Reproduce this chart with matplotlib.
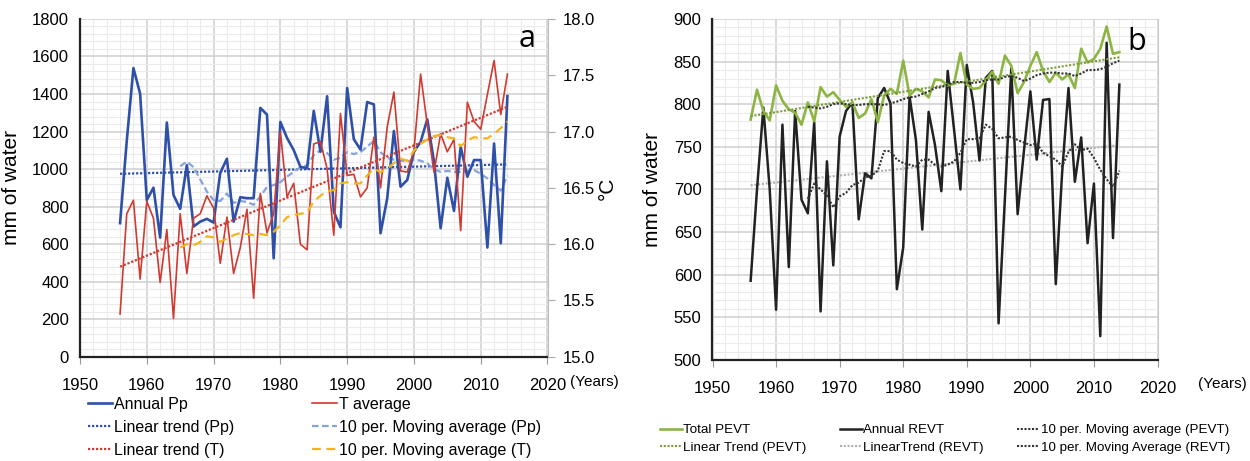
import numpy as np
import matplotlib.pyplot as plt
from matplotlib.ticker import MultipleLocator
from matplotlib.lines import Line2D

plt.rcParams['font.family'] = ['Liberation Sans', 'DejaVu Sans']

# ---------------- data ----------------
years = list(range(1956, 2015))
ma_years = list(range(1965, 2015))

# panel a : precipitation (mm) and temperature (degC)
annual_pp = [712, 1150, 1538, 1402, 835, 901, 635, 1248, 862, 788,
             1021, 694, 720, 735, 715, 980, 1055, 720, 850, 845,
             845, 1326, 1290, 525, 1251, 1166, 1101, 1012, 1004, 1310,
             1092, 1388, 773, 690, 1432, 1159, 1104, 1357, 1345, 658,
             844, 1203, 906, 942, 1092, 1145, 1265, 1039, 685, 954,
             777, 1119, 959, 1048, 1048, 582, 1136, 605, 1389]
t_average = [15.38, 16.27, 16.39, 15.69, 16.38, 16.23, 15.66, 16.13, 15.34, 16.27,
             15.74, 16.23, 16.27, 16.43, 16.32, 15.83, 16.24, 15.74, 15.97, 16.31,
             15.52, 16.45, 16.10, 16.27, 17.00, 16.42, 16.54, 16.00, 15.95, 16.89,
             16.91, 16.67, 16.08, 17.16, 16.61, 16.62, 16.42, 16.50, 16.95, 16.50,
             17.04, 17.35, 16.65, 16.64, 16.83, 17.51, 17.06, 16.64, 16.98, 16.82,
             16.93, 16.12, 17.26, 17.09, 17.02, 17.33, 17.63, 17.15, 17.51]
ma_pp = [1015, 1040, 1010, 945, 880, 835, 830, 870, 820, 830,
         825, 810, 855, 905, 915, 930, 960, 985, 1010, 1020,
         1075, 1100, 1085, 1050, 1060, 1090, 1080, 1090, 1120, 1150,
         1090, 1060, 1050, 1045, 1040, 1050, 1045, 1030, 1000, 985,
         990, 985, 985, 990, 995, 975, 950, 915, 885, 965]
ma_t = [15.97, 16.00, 15.99, 16.02, 16.07, 16.06, 16.02, 16.05, 16.08, 16.10,
        16.09, 16.08, 16.09, 16.08, 16.11, 16.17, 16.24, 16.26, 16.27, 16.28,
        16.38, 16.43, 16.47, 16.48, 16.54, 16.55, 16.54, 16.54, 16.61, 16.67,
        16.64, 16.67, 16.72, 16.76, 16.74, 16.83, 16.89, 16.93, 16.96, 16.97,
        16.95, 16.94, 16.87, 16.92, 16.95, 16.94, 16.94, 16.98, 17.03, 17.09]
trend_years = [1956, 2014]
trend_pp = [975, 1025]
trend_t = [15.80, 17.22]

# panel b : evapotranspiration (mm)
total_pevt = [782, 817, 792, 781, 822, 804, 794, 790, 776, 802,
              780, 820, 809, 814, 805, 797, 802, 784, 789, 806,
              779, 810, 818, 812, 851, 810, 818, 815, 808, 829,
              828, 822, 824, 860, 823, 818, 819, 828, 838, 824,
              857, 845, 813, 826, 845, 861, 839, 826, 837, 829,
              835, 819, 865, 849, 853, 865, 891, 859, 861]
annual_revt = [593, 700, 796, 700, 559, 776, 609, 792, 688, 672,
               779, 557, 733, 611, 762, 792, 802, 665, 719, 713,
               807, 819, 801, 583, 632, 809, 758, 653, 791, 752,
               698, 839, 770, 700, 846, 802, 734, 831, 839, 543,
               690, 842, 671, 746, 815, 735, 805, 806, 589, 720,
               819, 709, 761, 637, 707, 528, 872, 643, 823]
ma_pevt = [797, 796, 795, 797, 800, 801, 800, 799, 799, 800,
           800, 800, 799, 801, 803, 806, 808, 809, 812, 815,
           819, 820, 823, 826, 826, 825, 825, 826, 828, 829,
           829, 832, 833, 831, 827, 830, 834, 836, 837, 837,
           836, 836, 833, 836, 840, 840, 841, 844, 848, 851]
ma_revt = [689, 707, 700, 693, 679, 692, 696, 705, 708, 714,
           716, 722, 745, 745, 735, 731, 729, 727, 735, 735,
           729, 727, 729, 733, 743, 759, 759, 760, 776, 771,
           760, 761, 762, 758, 755, 752, 754, 743, 739, 735,
           727, 744, 753, 746, 748, 737, 723, 712, 703, 722]
trend_pevt = [786, 855]
trend_revt = [705, 752]

# colours
c_pp = '#2f50a8'
c_t = '#d03a30'
c_mapp = '#86a3dc'
c_mat = '#f2b51b'
c_green = '#8cb543'
c_black = '#222222'

fig = plt.figure(figsize=(12.5, 4.61), dpi=100)


def style_grid(ax, xminor, yminor):
    ax.set_xlim(1950, 2020)
    ax.xaxis.set_major_locator(MultipleLocator(10))
    ax.xaxis.set_minor_locator(MultipleLocator(xminor))
    ax.yaxis.set_minor_locator(MultipleLocator(yminor))
    ax.grid(which='major', color='#cfcfcf', lw=1.1, zorder=0)
    ax.grid(which='minor', color='#ebebeb', lw=0.8, zorder=0)
    ax.set_axisbelow(True)
    ax.tick_params(axis='x', which='major', length=5, color='#999999', pad=10, labelsize=12)
    ax.tick_params(axis='y', which='major', length=0, pad=8, labelsize=12)
    ax.tick_params(which='minor', length=0)
    ax.spines['top'].set_visible(False)
    for s in ('left', 'bottom'):
        ax.spines[s].set_linewidth(1.6)
        ax.spines[s].set_color('#222222')


# ---------------- panel a ----------------
ax1 = fig.add_axes([0.064, 0.226, 0.374, 0.733])
style_grid(ax1, 2, 40)
ax1.set_ylim(0, 1800)
ax1.yaxis.set_major_locator(MultipleLocator(200))
ax1.spines['right'].set_visible(False)
ax1.set_ylabel('mm of water', fontsize=15, labelpad=8)

ax1t = ax1.twinx()
ax1t.set_ylim(15.0, 18.0)
ax1t.yaxis.set_major_locator(MultipleLocator(0.5))
ax1t.yaxis.set_major_formatter(plt.FormatStrFormatter('%.1f'))
ax1t.tick_params(axis='y', length=5, color='#aaaaaa', pad=6, labelsize=12)
for s in ('top', 'left', 'bottom'):
    ax1t.spines[s].set_visible(False)
ax1t.spines['right'].set_color('#bbbbbb')
ax1t.set_ylabel('°C', fontsize=15, labelpad=2)

l_pp, = ax1.plot(years, annual_pp, color=c_pp, lw=1.9, zorder=4)
l_tpp, = ax1.plot(trend_years, trend_pp, color=c_pp, lw=1.6, ls=(0, (1, 0.8)), zorder=3)
l_mapp, = ax1.plot(ma_years, ma_pp, color=c_mapp, lw=1.6, ls=(0, (3, 1.5)), zorder=3)
l_t, = ax1t.plot(years, t_average, color=c_t, lw=1.2, zorder=3)
l_tt, = ax1t.plot(trend_years, trend_t, color=c_t, lw=1.6, ls=(0, (1, 0.8)), zorder=3)
l_mat, = ax1t.plot(ma_years, ma_t, color=c_mat, lw=1.6, ls=(0, (4, 2.5)), zorder=3)

ax1.text(0.975, 0.985, 'a', transform=ax1.transAxes, ha='right', va='top',
         fontsize=22, family=['Open Sans', 'DejaVu Sans'])
ax1.text(1.048, -0.075, '(Years)', transform=ax1.transAxes, ha='left', va='center', fontsize=11)

fig.legend([l_pp, l_tpp, l_tt, l_t, l_mapp, l_mat],
           ['Annual Pp', 'Linear trend (Pp)', 'Linear trend (T)',
            'T average', '10 per. Moving average (Pp)', '10 per. Moving average (T)'],
           loc='upper left', bbox_to_anchor=(0.070, 0.139), ncol=2, frameon=False,
           fontsize=11.5, handlelength=1.55, handletextpad=0.1, columnspacing=4.9,
           labelspacing=0.5, borderaxespad=0, borderpad=0)

# ---------------- panel b ----------------
ax2 = fig.add_axes([0.570, 0.219, 0.356, 0.740])
style_grid(ax2, 2, 10)
ax2.set_ylim(500, 900)
ax2.yaxis.set_major_locator(MultipleLocator(50))
ax2.spines['right'].set_color('#cccccc')
ax2.set_ylabel('mm of water', fontsize=15, labelpad=8)

ax2.plot(trend_years, trend_revt, color='#b0b0b0', lw=1.5, ls=(0, (1, 0.8)), zorder=2)
l_rv, = ax2.plot(years, annual_revt, color=c_black, lw=1.8, zorder=3)
l_pv, = ax2.plot(years, total_pevt, color=c_green, lw=1.9, zorder=4)
l_tpv, = ax2.plot(trend_years, trend_pevt, color='#7d9d3c', lw=1.5, ls=(0, (1, 0.8)), zorder=5)
l_mpv, = ax2.plot(ma_years, ma_pevt, color='#333333', lw=1.5, ls=(0, (1, 0.8)), zorder=5)
l_mrv, = ax2.plot(ma_years, ma_revt, color='#333333', lw=1.5, ls=(0, (1, 0.8)), zorder=5)
l_trv = Line2D([], [], color='#b0b0b0', lw=1.5, ls=(0, (1, 0.8)))

ax2.text(0.975, 0.975, 'b', transform=ax2.transAxes, ha='right', va='top',
         fontsize=22, family=['Open Sans', 'DejaVu Sans'])
ax2.text(1.09, -0.07, '(Years)', transform=ax2.transAxes, ha='left', va='center', fontsize=11)

fig.legend([l_pv, l_tpv, l_rv, l_trv, l_mpv, l_mrv],
           ['Total PEVT', 'Linear Trend (PEVT)', 'Annual REVT',
            'LinearTrend (REVT)', '10 per. Moving average (PEVT)',
            '10 per. Moving Average (REVT)'],
           loc='upper left', bbox_to_anchor=(0.528, 0.080), ncol=3, frameon=False,
           fontsize=9.6, handlelength=1.65, handletextpad=0.1, columnspacing=2.5,
           labelspacing=0.4, borderaxespad=0, borderpad=0)

fig.savefig('out.png', dpi=100)
